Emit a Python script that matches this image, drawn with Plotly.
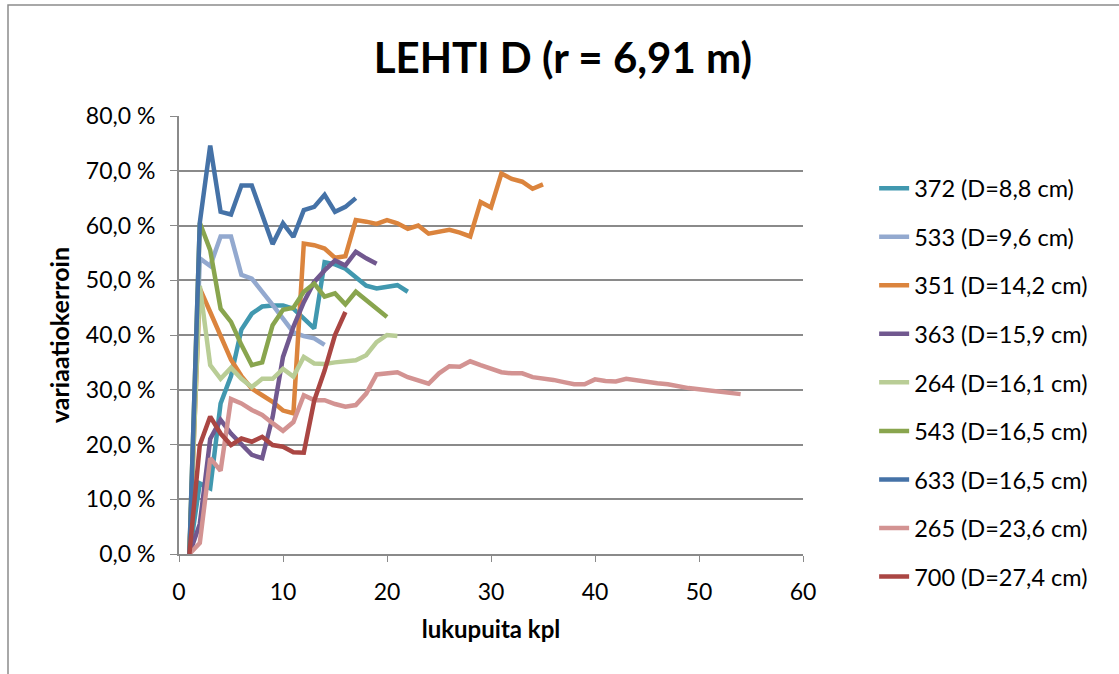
import plotly.graph_objects as go

# Sample counts (lukupuita kpl) start at 1 for every tree
s372 = [0, 12.9, 12.0, 27.5, 32.5, 41.0, 43.9, 45.2, 45.4, 45.4, 44.8, 43.0, 41.2, 53.3,
        52.9, 52.1, 50.5, 49.0, 48.5, 48.7, 49.1, 47.9]
s533 = [0, 54.0, 52.6, 58.0, 58.0, 51.0, 50.3, 48.0, 45.5, 43.0, 40.5, 39.8, 39.4, 38.2]
s351 = [0, 48.5, 44.2, 40.0, 35.5, 32.5, 30.2, 29.0, 27.8, 26.2, 25.7, 56.7, 56.4, 55.8,
        54.1, 54.4, 61.0, 60.7, 60.3, 61.0, 60.4, 59.4, 60.0, 58.5, 58.8, 59.2, 58.7, 58.0,
        64.3, 63.3, 69.5, 68.5, 68.0, 66.7, 67.5]
s363 = [0, 5.5, 21.0, 24.5, 22.0, 20.0, 18.1, 17.5, 25.0, 36.0, 41.5, 46.0, 49.7, 51.8,
        53.6, 52.7, 55.2, 54.0, 53.0]
s264 = [0, 49.0, 34.5, 32.0, 34.0, 32.0, 30.5, 32.0, 32.0, 33.8, 32.4, 36.0, 34.8, 34.7,
        35.0, 35.2, 35.4, 36.3, 38.7, 40.0, 39.8]
s543 = [0, 60.5, 55.5, 44.8, 42.4, 38.2, 34.5, 35.0, 41.8, 44.6, 45.0, 47.9, 49.4, 47.0,
        47.6, 45.6, 47.9, 46.4, 44.8, 43.3]
s633 = [0, 60.5, 74.6, 62.5, 62.0, 67.3, 67.3, 61.8, 56.6, 60.4, 57.9, 62.8, 63.4, 65.6,
        62.5, 63.4, 65.0]
s265 = [0, 2.0, 17.5, 15.2, 28.3, 27.5, 26.3, 25.4, 23.9, 22.5, 24.1, 29.0, 28.1, 28.1,
        27.4, 26.9, 27.2, 29.3, 32.8, 33.0, 33.2, 32.3, 31.6, 31.1, 33.0, 34.3, 34.2, 35.2,
        34.5, 33.8, 33.2, 33.0, 33.0, 32.3, 32.1, 31.8, 31.4, 31.0, 31.0, 31.9, 31.6, 31.5,
        32.0, 31.7, 31.3, 31.2, 31.0, 30.6, 30.3, 30.1, 29.9, 29.6, 29.4, 29.2]
s700 = [0, 19.9, 25.1, 22.0, 19.9, 21.1, 20.5, 21.4, 19.9, 19.6, 18.6, 18.5, 28.0, 33.5,
        40.0, 44.2]

series_names = ["372 (D=8,8 cm)", "533 (D=9,6 cm)", "351 (D=14,2 cm)", "363 (D=15,9 cm)",
                "264 (D=16,1 cm)", "543 (D=16,5 cm)", "633 (D=16,5 cm)", "265 (D=23,6 cm)",
                "700 (D=27,4 cm)"]
series_values = [s372, s533, s351, s363, s264, s543, s633, s265, s700]
series_colors = ["#4198AF", "#93A9CF", "#DB843D", "#71588F", "#B9CD96", "#89A54E",
                 "#4572A7", "#D39392", "#AA4643"]

y_ticks = [0, 10, 20, 30, 40, 50, 60, 70, 80]
y_ticktext = [f"{v:.1f}".replace(".", ",") + " %" for v in y_ticks]
x_ticks = [0, 10, 20, 30, 40, 50, 60]

FONT = "Lato, Carlito, Calibri, sans-serif"
GRID = "#8A8A8A"

fig = go.Figure()
for name, vals, col in zip(series_names, series_values, series_colors):
    fig.add_trace(go.Scatter(
        x=list(range(1, len(vals) + 1)), y=vals, name=name, mode="lines",
        legendgroup=name,
        line=dict(color=col, width=4.5),
    ))

fig.update_layout(
    width=1119, height=674,
    margin=dict(l=179, r=316, t=116, b=120),
    paper_bgcolor="white", plot_bgcolor="white",
    font=dict(family=FONT, color="black", size=23),
    title=dict(text="<b>LEHTI D (r = 6,91 m)</b>", font=dict(size=42, family=FONT),
               x=0.503, xanchor="center", xref="container",
               y=1 - 58 / 674, yanchor="middle"),
    showlegend=True,
    legend=dict(x=1.114, xanchor="left", y=0.885, yanchor="top",
                font=dict(size=23.5, family=FONT), tracegroupgap=15,
                bgcolor="rgba(0,0,0,0)", itemwidth=30),
    xaxis=dict(range=[0, 60], tickvals=x_ticks, showgrid=False, zeroline=False,
               showline=True, linecolor=GRID, linewidth=2,
               ticks="outside", ticklen=6, tickcolor=GRID, tickwidth=1,
               tickfont=dict(size=23), ticklabelstandoff=10,
               title=dict(text="<b>lukupuita kpl</b>", font=dict(size=24), standoff=18)),
    yaxis=dict(range=[0, 80], tickvals=y_ticks, ticktext=y_ticktext,
               showgrid=True, gridcolor=GRID, gridwidth=2, zeroline=False,
               showline=True, linecolor=GRID, linewidth=2,
               ticks="outside", ticklen=7, tickcolor=GRID, tickwidth=1,
               tickfont=dict(size=23), ticklabelstandoff=10,
               title=dict(text="<b>variaatiokerroin</b>", font=dict(size=25), standoff=9)),
    shapes=[dict(type="rect", xref="paper", yref="paper",
                 x0=(8 - 179) / 624, x1=(1130 - 179) / 624,
                 y0=(554 - 690) / 438, y1=(554 - 5) / 438,
                 line=dict(color="#8C8C8C", width=1.5), fillcolor="rgba(0,0,0,0)",
                 layer="below")],
)

fig.write_html("out.html")
